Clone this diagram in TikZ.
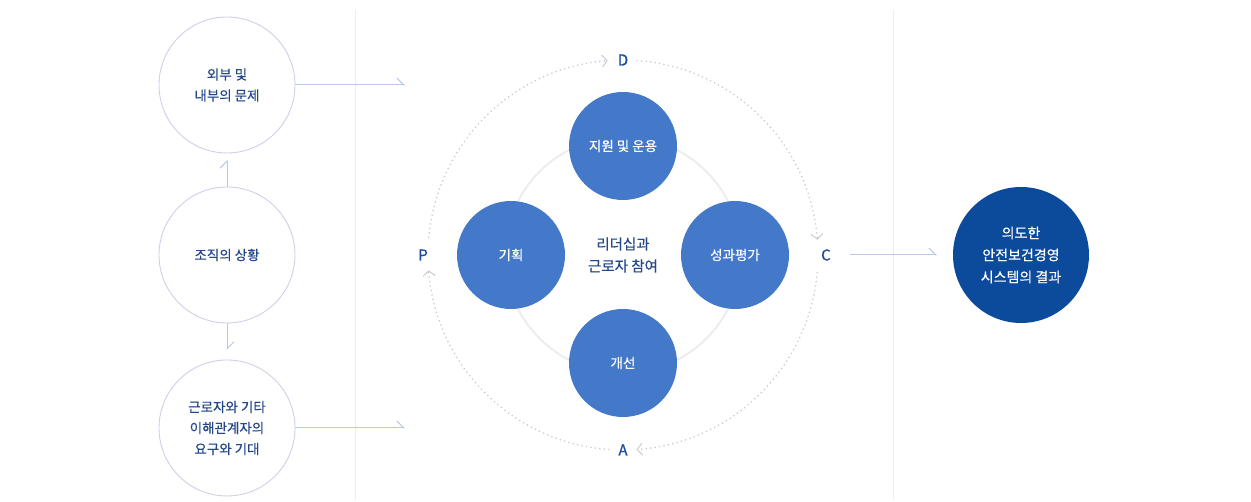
\documentclass[tikz,border=0pt]{standalone}
\usepackage{fontspec}
\setmainfont{Noto Sans CJK KR}[FakeBold=0.35, BoldFont={Noto Sans CJK KR}, BoldFeatures={FakeBold=0.8}]
\usetikzlibrary{arrows.meta}
\definecolor{navy}{HTML}{24478A}
\definecolor{ringline}{HTML}{CDD0EA}
\definecolor{conn}{HTML}{B8C8E8}
\definecolor{sep}{HTML}{EEEEF2}
\definecolor{midblue}{HTML}{4479C9}
\definecolor{deepblue}{HTML}{0C4A9C}
\definecolor{dotgray}{HTML}{C9CBD2}
\definecolor{innerring}{HTML}{EDEDED}
\definecolor{letter}{HTML}{1E4C9A}
\tikzset{
  ctxcircle/.style={circle, draw=ringline, line width=0.9pt, minimum size=136pt, inner sep=0pt,
    text=navy, font=\fontsize{13.5}{21}\selectfont, align=center},
  pdca/.style={circle, fill=midblue, minimum size=108pt, inner sep=0pt,
    text=white, font=\fontsize{13.5}{21}\selectfont, align=center},
  result/.style={circle, fill=deepblue, minimum size=136pt, inner sep=0pt,
    text=white, font=\fontsize{14}{22}\selectfont, align=center},
  letterlbl/.style={text=letter, font=\fontsize{15}{15}\selectfont\bfseries, inner sep=0pt},
  connector/.style={draw=conn, line width=1pt, -{Straight Barb[harpoon, length=7pt, width=14pt, line width=1pt]}},
  cyc/.style={draw=dotgray, line width=1.3pt, dash pattern=on 1.3pt off 3.2pt,
    -{Straight Barb[length=5pt, width=12pt, line width=1pt]}},
  sepline/.style={draw=sep, line width=1pt},
}
\begin{document}
\begin{tikzpicture}[x=1pt,y=1pt]
\useasboundingbox (0,0) rectangle (1251,502);
% separators
\draw[sepline] (355,492) -- (355,2);
\draw[sepline] (893,492) -- (893,2);
% left column
\node[ctxcircle] (ext) at (227,417) {외부 및\\내부의 문제};
\node[ctxcircle] (org) at (227,247) {조직의 상황};
\node[ctxcircle] (req) at (227,74) {근로자와 기타\\이해관계자의\\요구와 기대};
\coordinate (upend) at (227,342);
\coordinate (downend) at (227,152);
\coordinate (topin) at (405,417);
\coordinate (botin) at (405,74);
\draw[connector] (org.north) -- (upend);
\draw[connector] (org.south) -- (downend);
\draw[connector] (ext.east) -- (topin);
\draw[connector] (req.east) -- (botin);
% PDCA cycle
\coordinate (cen) at (623,247);
\draw[innerring, line width=2pt] (cen) circle (118);
\node[pdca] (do) at (623,356) {지원 및 운용};
\node[pdca] (plan) at (511,247) {기획};
\node[pdca] (check) at (735,247) {성과평가};
\node[pdca] (act) at (623,139) {개선};
\node[text=navy, font=\fontsize{14.5}{22}\selectfont, align=center] (lead) at (cen) {리더십과\\근로자 참여};
\node[letterlbl] (D) at (623,442) {D};
\node[letterlbl] (C) at (826,247) {C};
\node[letterlbl] (A) at (623,52) {A};
\node[letterlbl] (P) at (423,247) {P};
\draw[cyc] ([shift={(175:195)}]cen) arc[start angle=175, end angle=94.5, radius=195];
\draw[cyc] ([shift={(86:195)}]cen) arc[start angle=86, end angle=4.5, radius=195];
\draw[cyc] ([shift={(-5:195)}]cen) arc[start angle=-5, end angle=-86, radius=195];
\draw[cyc] ([shift={(-94:195)}]cen) arc[start angle=-94, end angle=-175.5, radius=195];
% result
\node[result] (res) at (1021,247) {의도한\\안전보건경영\\시스템의 결과};
\coordinate (cout) at (850,247);
\coordinate (resin) at (937,247);
\draw[connector] (cout) -- (resin);
\end{tikzpicture}
\end{document}
